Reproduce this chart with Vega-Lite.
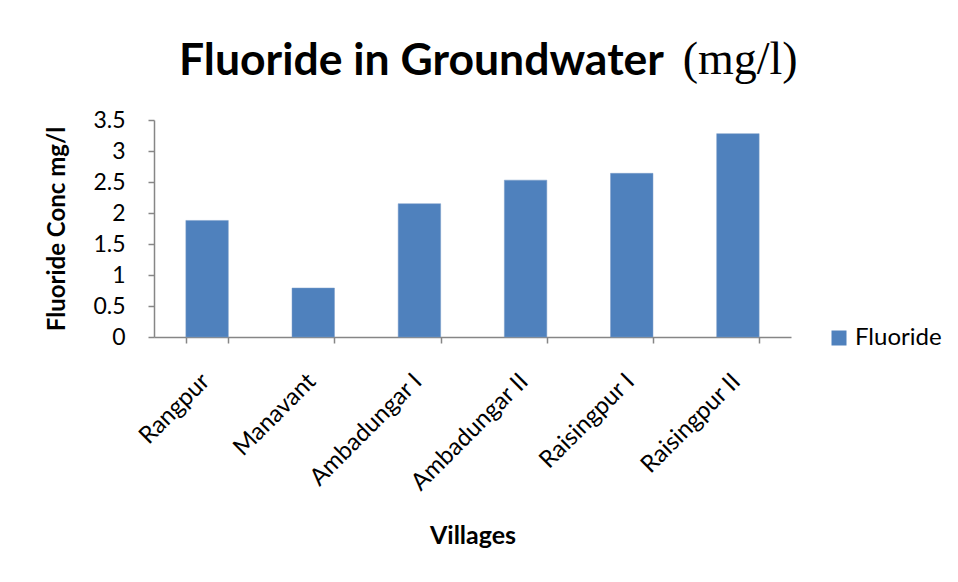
{
  "$schema": "https://vega.github.io/schema/vega-lite/v6.json",
  "width": 637,
  "height": 217,
  "padding": {"left": 45, "top": 36, "right": 10, "bottom": 10},
  "background": "white",
  "title": {
    "text": "Fluoride in Groundwater",
    "subtitle": "\u200b\u00a0\u00a0\u00a0\u00a0\u00a0\u00a0\u00a0\u00a0\u00a0\u00a0\u00a0\u00a0\u00a0\u00a0\u00a0\u00a0\u00a0\u00a0\u00a0\u00a0\u00a0\u00a0\u00a0\u00a0\u00a0\u00a0\u00a0\u00a0\u00a0\u00a0\u00a0\u00a0\u00a0\u00a0\u00a0\u00a0\u00a0\u00a0\u00a0\u00a0\u00a0\u00a0\u00a0\u2009(mg/l)",
    "anchor": "start",
    "align": "left",
    "frame": "group",
    "dx": 25,
    "font": "Lato",
    "fontSize": 44.5,
    "fontWeight": "bold",
    "color": "black",
    "subtitleFont": "Liberation Serif",
    "subtitleFontSize": 46,
    "subtitleColor": "black",
    "subtitlePadding": -47,
    "offset": 22
  },
  "data": {
    "values": [
      {"village": "Rangpur", "fluoride": 1.88, "series": "Fluoride"},
      {"village": "Manavant", "fluoride": 0.79, "series": "Fluoride"},
      {"village": "Ambadungar I", "fluoride": 2.15, "series": "Fluoride"},
      {"village": "Ambadungar II", "fluoride": 2.53, "series": "Fluoride"},
      {"village": "Raisingpur I", "fluoride": 2.64, "series": "Fluoride"},
      {"village": "Raisingpur II", "fluoride": 3.28, "series": "Fluoride"}
    ]
  },
  "mark": {"type": "bar", "stroke": "#7a9cc8", "strokeWidth": 0.5},
  "encoding": {
    "x": {
      "field": "village",
      "type": "nominal",
      "sort": null,
      "scale": {"paddingInner": 0.6, "paddingOuter": 0.3},
      "axis": {
        "title": "Villages",
        "titleFont": "Lato",
        "titleFontSize": 25,
        "titleFontWeight": "bold",
        "titleColor": "black",
        "titlePadding": 28,
        "labelAngle": -45,
        "labelFont": "Lato",
        "labelFontSize": 24,
        "labelColor": "black",
        "labelPadding": 26,
        "labelOffset": -10,
        "tickBand": "extent",
        "tickSize": 6,
        "tickColor": "#868686",
        "domainColor": "#868686",
        "domainWidth": 1.5,
        "tickWidth": 1.5,
        "grid": false
      }
    },
    "y": {
      "field": "fluoride",
      "type": "quantitative",
      "scale": {"domain": [0, 3.5], "nice": false},
      "axis": {
        "title": "Fluoride Conc mg/l",
        "titleFont": "Lato",
        "titleFontSize": 24,
        "titleFontWeight": "bold",
        "titleColor": "black",
        "titlePadding": 23,
        "values": [0, 0.5, 1, 1.5, 2, 2.5, 3, 3.5],
        "format": "~g",
        "labelFont": "Lato",
        "labelFontSize": 23,
        "labelColor": "black",
        "labelPadding": 23,
        "tickSize": 6,
        "tickColor": "#868686",
        "domainColor": "#868686",
        "domainWidth": 1.5,
        "tickWidth": 1.5,
        "grid": false
      }
    },
    "color": {
      "field": "series",
      "type": "nominal",
      "scale": {"range": ["#4F81BD"]},
      "legend": {
        "title": null,
        "orient": "none",
        "legendX": 673,
        "legendY": 206,
        "symbolType": "square",
        "symbolSize": 225,
        "symbolStrokeWidth": 0,
        "labelFont": "Lato",
        "labelFontSize": 24,
        "labelColor": "black",
        "labelOffset": 4
      }
    }
  },
  "config": {
    "view": {"stroke": null}
  }
}
